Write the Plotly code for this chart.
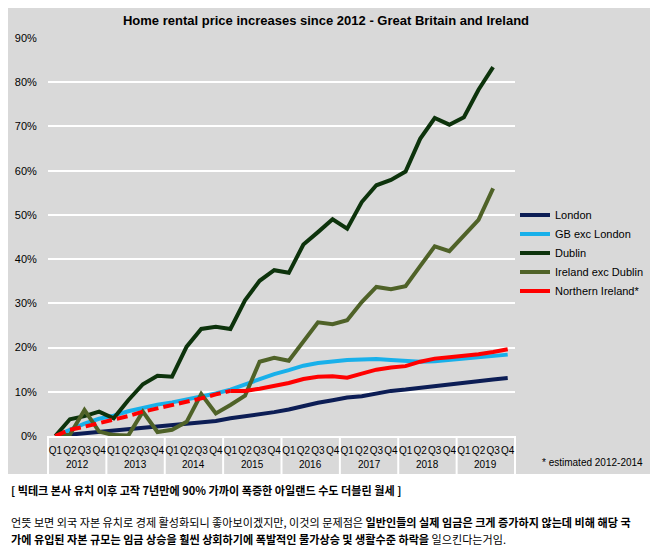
import plotly.graph_objects as go

# quarterly rental price increase since Q1 2012 (%)
years = ["2012", "2013", "2014", "2015", "2016", "2017", "2018", "2019"]
quarters = ["Q1", "Q2", "Q3", "Q4"]

london = [0, 0.3, 0.6, 0.9, 1.3, 1.5, 1.9, 2.1, 2.4, 2.7, 3.0, 3.4, 4.0, 4.4, 4.9, 5.4,
          6.0, 6.8, 7.5, 8.1, 8.7, 9.0, 9.6, 10.2, 10.5, 10.9, 11.3, 11.7, 12.2, 12.4, 12.8, 13.1]
gb_exc_london = [0, 1.4, 2.8, 3.9, 4.6, 5.6, 6.4, 7.1, 7.6, 8.2, 8.8, 9.6, 10.5, 11.7, 12.9, 14.0,
                 14.9, 15.9, 16.5, 16.9, 17.2, 17.3, 17.4, 17.2, 16.9, 16.8, 16.9, 17.2, 17.4, 17.8, 18.1, 18.4]
dublin = [0, 3.8, 4.5, 5.5, 4.0, 8.1, 11.7, 13.6, 13.4, 20.2, 24.2, 24.7, 24.2, 30.7, 35.1, 37.5,
          36.9, 43.3, 46.1, 49.0, 46.9, 52.9, 56.7, 57.9, 59.8, 67.2, 71.9, 70.4, 72.1, 78.3, 83.4]
ireland_exc_dublin = [0, 0.3, 5.9, 1.0, 0.2, 0.1, 5.5, 0.9, 1.4, 3.2, 9.5, 5.1, 7.0, 9.1, 16.8, 17.7,
                      17.0, 21.3, 25.7, 25.3, 26.2, 30.3, 33.7, 33.2, 33.9, 38.4, 42.9, 41.8, 45.2, 48.9, 56.0]
northern_ireland = [0, 1.4, 2.1, 2.9, 3.6, 4.5, 5.5, 6.2, 7.0, 7.7, 8.5, 9.4, 10.2, 10.2, 10.7, 11.3,
                    12.0, 12.9, 13.4, 13.5, 13.2, 14.1, 15.0, 15.5, 15.8, 16.8, 17.5, 17.8, 18.1, 18.5, 19.0, 19.6]
ni_estimated_until = 12  # index of last estimated point (2012-2014)

# one slot per quarter on the x axis, labelled with the quarter name (years drawn below)
period_quarter = [q for y in years for q in quarters]
slots = list(range(len(period_quarter)))
n_slots = len(slots)

# page body has an 8px margin, so the figure is drawn 8px smaller and offset
OFF = 8
W, H = 658 - OFF, 549 - OFF
ML, MR, MT, MB = 48 - OFF, 143, 38 - OFF, 113
PW, PH = W - ML - MR, H - MT - MB


def px(x):
    # x in window pixels -> paper coords
    return (x - OFF - ML) / PW


def py(y):
    # y in window pixels -> paper coords
    return (H - MB - (y - OFF)) / PH


def slot_paper(s):
    # slot position (range -0.5 .. n-0.5) -> paper coords
    return (s + 0.5) / n_slots


fig = go.Figure()

fig.add_trace(go.Scatter(x=slots[:len(london)], y=london, name="London", mode="lines",
                         line=dict(color="#0c1d55", width=4)))
fig.add_trace(go.Scatter(x=slots[:len(gb_exc_london)], y=gb_exc_london, name="GB exc London",
                         mode="lines", line=dict(color="#18b0ea", width=4)))
fig.add_trace(go.Scatter(x=slots[:len(dublin)], y=dublin, name="Dublin", mode="lines",
                         line=dict(color="#0d330c", width=4)))
fig.add_trace(go.Scatter(x=slots[:len(ireland_exc_dublin)], y=ireland_exc_dublin,
                         name="Ireland exc Dublin", mode="lines", line=dict(color="#4f6228", width=4)))
# Northern Ireland: dashed for the estimated part, solid afterwards
fig.add_trace(go.Scatter(x=slots[:ni_estimated_until + 1], y=northern_ireland[:ni_estimated_until + 1],
                         mode="lines", showlegend=False, hoverinfo="skip",
                         line=dict(color="#ff0000", width=4, dash="11px,5px")))
fig.add_trace(go.Scatter(x=slots[ni_estimated_until:len(northern_ireland)],
                         y=northern_ireland[ni_estimated_until:], name="Northern Ireland*",
                         mode="lines", line=dict(color="#ff0000", width=4)))

# gray chart panel
fig.add_shape(type="rect", xref="paper", yref="paper", layer="below",
              x0=px(8), x1=px(650), y0=py(474), y1=py(8),
              fillcolor="#d9d9d9", line=dict(width=0))

# year group labels and the white dividers between years
for k, yr in enumerate(years):
    fig.add_annotation(text=yr, xref="paper", yref="paper", x=slot_paper(4 * k + 1.5), y=py(464),
                       xanchor="center", yanchor="middle", showarrow=False,
                       font=dict(size=10, color="#000000"))
for k in range(len(years) + 1):
    xd = slot_paper(4 * k - 0.5)
    fig.add_shape(type="line", xref="paper", yref="paper", x0=xd, x1=xd,
                  y0=0, y1=py(474), line=dict(color="#ffffff", width=2), layer="below")

fig.add_annotation(text="* estimated 2012-2014", xref="paper", yref="paper",
                   x=px(592), y=py(463), xanchor="center", yanchor="middle", showarrow=False,
                   font=dict(size=10, color="#000000"))

caption = "<b>[ 빅테크 본사 유치 이후 고작 7년만에 90% 가까이 폭증한 아일랜드 수도 더블린 월세 ]</b>"
body1 = "언뜻 보면 외국 자본 유치로 경제 활성화되니 좋아보이겠지만, 이것의 문제점은 <b>일반인들의 실제 임금은 크게 증가하지 않는데 비해 해당 국</b>"
body2 = "<b>가에 유입된 자본 규모는 임금 상승을 훨씬 상회하기에 폭발적인 물가상승 및 생활수준 하락을</b> 일으킨다는거임."

for txt, ypos in [(caption, 490), (body1, 522), (body2, 539)]:
    fig.add_annotation(text=txt, xref="paper", yref="paper", x=px(8.5), y=py(ypos),
                       xanchor="left", yanchor="middle", showarrow=False,
                       font=dict(family="Noto Sans CJK KR", size=11.1, color="#000000"))

fig.update_layout(
    width=W, height=H,
    margin=dict(l=ML, r=MR, t=MT, b=MB, autoexpand=False),
    paper_bgcolor="#ffffff",
    plot_bgcolor="#d9d9d9",
    font=dict(family="Liberation Sans, Arial", size=11, color="#000000"),
    title=dict(text="<b>Home rental price increases since 2012 - Great Britain and Ireland</b>",
               x=(326 - OFF) / W, xanchor="center", xref="container",
               y=1 - (20 - OFF) / H, yanchor="middle", yref="container",
               font=dict(size=13, color="#000000")),
    legend=dict(x=1.0, xanchor="left", y=py(253), yanchor="middle",
                bgcolor="rgba(0,0,0,0)", font=dict(size=11, color="#000000")),
    showlegend=True,
    xaxis=dict(type="linear", range=[-0.5, n_slots - 0.5], autorange=False, automargin=False,
               tickmode="array", tickvals=slots, ticktext=period_quarter, tickangle=0,
               showgrid=False, showline=True, linecolor="#ffffff", linewidth=2, zeroline=False,
               ticks="outside", ticklen=4, tickcolor="rgba(0,0,0,0)",
               tickfont=dict(size=10, color="#000000")),
    yaxis=dict(range=[0, 90], autorange=False, automargin=False, dtick=10, ticksuffix="%",
               showgrid=True, gridcolor="#ffffff", gridwidth=2, zeroline=False,
               ticks="outside", ticklen=8, tickcolor="rgba(0,0,0,0)",
               tickfont=dict(size=11, color="#000000")),
)

fig.write_html("out.html")
